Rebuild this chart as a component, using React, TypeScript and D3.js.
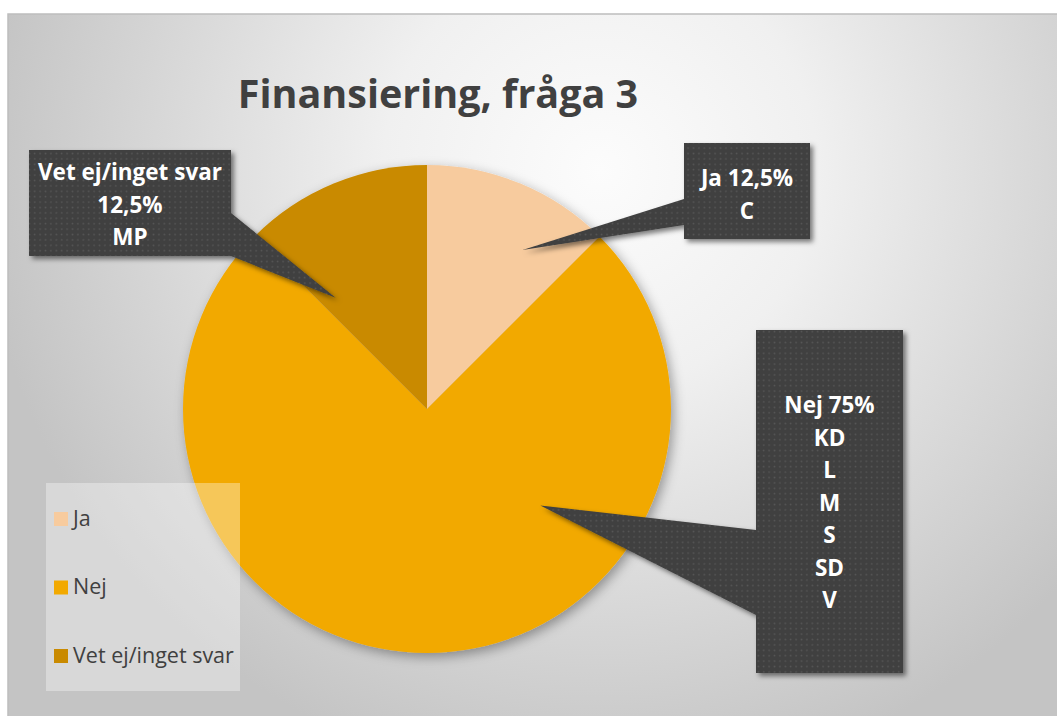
import React from 'react';
import * as d3 from 'd3';

// Finansiering, fråga 3 – pie with callouts

const categories = ['Ja', 'Nej', 'Vet ej/inget svar'];
const shares = [12.5, 75, 12.5];
const colors = ['#F7CB9E', '#F2A900', '#C98A00'];
const parties = [['C'], ['KD', 'L', 'M', 'S', 'SD', 'V'], ['MP']];

const W = 1057;
const H = 716;
const cx = 427;
const cy = 409;
const R = 244;

const fmtPct = (v: number) => d3.format('.1~f')(v).replace('.', ',') + '%';

// callout box layout, per slice
const callouts = [
  { x: 684, y: 143, w: 126, h: 96, first: 186, tipAngle: 31, tipR: 0.76, base: [199, 225], side: 'left' },
  { x: 756, y: 330, w: 147, h: 343, first: 413, tipAngle: 130.4, tipR: 0.61, base: [530, 615], side: 'left' },
  { x: 29, y: 150, w: 202, h: 106, first: 180, tipAngle: 320.6, tipR: 0.59, base: [213, 256], side: 'right' },
];

const calloutLines = (i: number): string[] => {
  if (i === 2) return [categories[i], fmtPct(shares[i]), ...parties[i]];
  return [`${categories[i]} ${fmtPct(shares[i])}`, ...parties[i]];
};

const App = () => {
  const pie = d3.pie<number>().sort(null).value(d => d)(shares);
  const arc = d3.arc<d3.PieArcDatum<number>>().innerRadius(0).outerRadius(R);

  const shapes = callouts.map(c => {
    const a = (c.tipAngle * Math.PI) / 180;
    const tx = cx + Math.sin(a) * R * c.tipR;
    const ty = cy - Math.cos(a) * R * c.tipR;
    const ex = c.side === 'left' ? c.x : c.x + c.w;
    const p = d3.path();
    p.moveTo(c.x, c.y);
    p.lineTo(c.x + c.w, c.y);
    if (c.side === 'right') {
      p.lineTo(ex, c.base[0]);
      p.lineTo(tx, ty);
      p.lineTo(ex, c.base[1]);
    }
    p.lineTo(c.x + c.w, c.y + c.h);
    p.lineTo(c.x, c.y + c.h);
    if (c.side === 'left') {
      p.lineTo(ex, c.base[1]);
      p.lineTo(tx, ty);
      p.lineTo(ex, c.base[0]);
    }
    p.closePath();
    return p.toString();
  });

  const lineStep = 32.5;

  return (
    <svg width={W} height={H} style={{ position: 'absolute', left: 0, top: 0, background: '#fff' }}>
      <defs>
        <radialGradient id="bg" gradientUnits="userSpaceOnUse" cx={600} cy={170} r={620}>
          <stop offset="0" stopColor="#FCFCFC" />
          <stop offset="0.35" stopColor="#F0F0F0" />
          <stop offset="1" stopColor="#C4C4C4" />
        </radialGradient>
        <pattern id="dots" width={5.4} height={5.4} patternUnits="userSpaceOnUse">
          <rect width={5.4} height={5.4} fill="#3F3F3F" />
          <rect x={1.5} y={1.5} width={1.6} height={1.6} fill="#575757" />
        </pattern>
        <filter id="pieShadow" x="-20%" y="-20%" width="140%" height="140%">
          <feDropShadow dx={3} dy={4} stdDeviation={6} floodColor="#000" floodOpacity={0.35} />
        </filter>
        <filter id="boxShadow" x="-20%" y="-20%" width="140%" height="140%">
          <feDropShadow dx={3} dy={3} stdDeviation={2.5} floodColor="#000" floodOpacity={0.5} />
        </filter>
      </defs>

      <rect x={8} y={14} width={W} height={H} fill="url(#bg)" stroke="#BDBDBD" strokeWidth={1.5} />

      <text
        x={438}
        y={108}
        textAnchor="middle"
        fontFamily="'Open Sans', sans-serif"
        fontWeight={700}
        fontSize={39.5}
        fill="#404040"
      >
        Finansiering, fråga 3
      </text>

      <g transform={`translate(${cx},${cy})`} filter="url(#pieShadow)">
        {pie.map((d, i) => (
          <path key={categories[i]} d={arc(d) || ''} fill={colors[i]} />
        ))}
      </g>

      {callouts.map((c, i) => (
        <g key={i}>
          <path d={shapes[i]} fill="url(#dots)" filter="url(#boxShadow)" />
          {calloutLines(i).map((t, j) => (
            <text
              key={j}
              x={c.x + c.w / 2}
              y={c.first + j * lineStep}
              textAnchor="middle"
              fontFamily="'Open Sans', sans-serif"
              fontWeight={700}
              fontSize={22.5}
              fill="#fff"
            >
              {t}
            </text>
          ))}
        </g>
      ))}

      <g>
        <rect x={46} y={483} width={194} height={208} fill="#fff" fillOpacity={0.35} />
        {categories.map((c, i) => (
          <g key={c} transform={`translate(54,${512 + i * 68.5})`}>
            <rect width={14} height={14} fill={colors[i]} />
            <text
              x={19}
              y={13.5}
              fontFamily="'Open Sans', sans-serif"
              fontSize={21.5}
              fill="#404040"
            >
              {c}
            </text>
          </g>
        ))}
      </g>
    </svg>
  );
};

export default App;
